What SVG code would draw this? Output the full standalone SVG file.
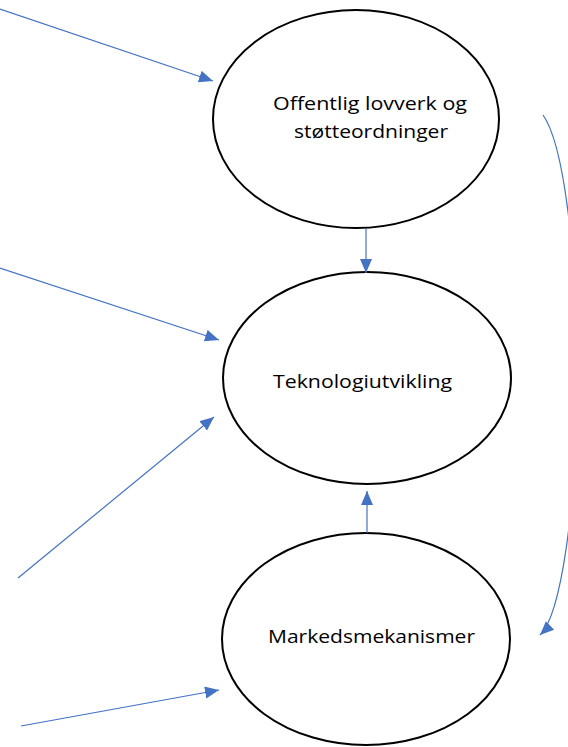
<svg xmlns="http://www.w3.org/2000/svg" width="568" height="747" viewBox="0 0 568 747">
  <style>
    .node { fill: #ffffff; stroke: #000000; stroke-width: 2; }
    .lbl { font-family: "Open Sans", "Noto Sans", sans-serif; font-size: 18.5px; fill: #000000; }
    .edge { fill: none; stroke: #4472C4; stroke-width: 1.2; marker-end: url(#arrow); }
  </style>
  <defs>
    <marker id="arrow" markerUnits="userSpaceOnUse" markerWidth="15" markerHeight="13" refX="14" refY="6" orient="auto">
      <path d="M0,0 L14,6 L0,12 Z" fill="#4472C4"/>
    </marker>
  </defs>
  <rect width="568" height="747" fill="#ffffff"/>
  <g id="node-offentlig">
    <ellipse class="node" cx="356" cy="119" rx="143" ry="109"/>
    <text class="lbl" x="273" y="110" textLength="194" lengthAdjust="spacingAndGlyphs">Offentlig lovverk og</text>
    <text class="lbl" x="294" y="138" textLength="154" lengthAdjust="spacingAndGlyphs">støtteordninger</text>
  </g>
  <g id="node-teknologi">
    <ellipse class="node" cx="367" cy="378" rx="144" ry="106"/>
    <text class="lbl" x="273" y="388" textLength="179" lengthAdjust="spacingAndGlyphs">Teknologiutvikling</text>
  </g>
  <g id="node-marked">
    <ellipse class="node" cx="366" cy="639" rx="144" ry="106"/>
    <text class="lbl" x="268" y="643" textLength="207" lengthAdjust="spacingAndGlyphs">Markedsmekanismer</text>
  </g>
  <g id="connectors">
    <line class="edge" x1="0" y1="9" x2="213" y2="81"/>
    <line class="edge" x1="0" y1="268" x2="219" y2="340"/>
    <line class="edge" x1="18" y1="578" x2="214" y2="417"/>
    <line class="edge" x1="21" y1="726" x2="219" y2="690"/>
    <line class="edge" x1="366" y1="229" x2="366" y2="273"/>
    <line class="edge" x1="367" y1="533" x2="367" y2="491"/>
    <path class="edge" d="M543,115 A44,265 0 0 1 540,635"/>
  </g>
</svg>
